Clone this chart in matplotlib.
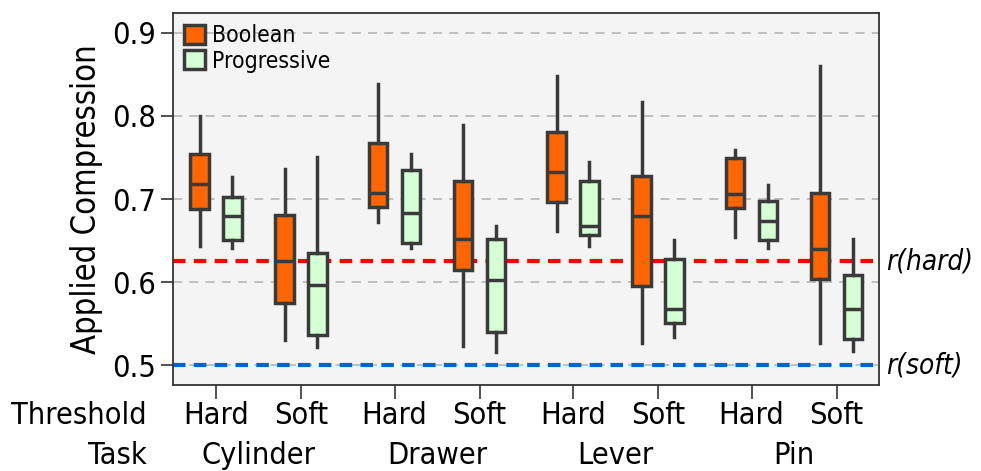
import matplotlib.pyplot as plt
from matplotlib.patches import Patch

plt.rcParams['font.family'] = ['DejaVu Sans']
plt.rcParams['font.stretch'] = 'condensed'

tasks = ['Cylinder', 'Drawer', 'Lever', 'Pin']
thresholds = ['Hard', 'Soft']

# whislo, q1, med, q3, whishi  (order: task x threshold)
boolean = [
    [0.644, 0.688, 0.718, 0.754, 0.800],
    [0.530, 0.575, 0.625, 0.681, 0.736],
    [0.672, 0.690, 0.707, 0.767, 0.839],
    [0.523, 0.615, 0.652, 0.722, 0.789],
    [0.662, 0.696, 0.732, 0.781, 0.848],
    [0.526, 0.595, 0.680, 0.728, 0.817],
    [0.654, 0.689, 0.706, 0.749, 0.759],
    [0.526, 0.604, 0.640, 0.707, 0.860],
]
progressive = [
    [0.641, 0.651, 0.680, 0.702, 0.726],
    [0.522, 0.536, 0.597, 0.635, 0.751],
    [0.641, 0.647, 0.683, 0.735, 0.754],
    [0.516, 0.540, 0.603, 0.652, 0.667],
    [0.643, 0.657, 0.668, 0.722, 0.745],
    [0.534, 0.551, 0.567, 0.628, 0.651],
    [0.641, 0.651, 0.674, 0.697, 0.717],
    [0.517, 0.532, 0.568, 0.609, 0.652],
]
r_hard = 0.625
r_soft = 0.5

bool_color = '#ff6600'
prog_color = '#d5ffd5'
edge = '#3a3a3a'

def stats(rows):
    return [dict(whislo=r[0], q1=r[1], med=r[2], q3=r[3], whishi=r[4], fliers=[]) for r in rows]

centers = []
for g in range(len(tasks)):
    for t in range(len(thresholds)):
        centers.append(g * 2.1 + t)
off = 0.194
w = 0.22

fig = plt.figure(figsize=(9.81, 4.71), dpi=100)
ax = fig.add_axes([173 / 981, 1 - 385 / 471, (879 - 173) / 981, (385 - 13) / 471])
ax.set_facecolor('#f4f4f4')

ax.axhline(r_hard, color='#ff0000', lw=3, ls=(0, (3, 2)), zorder=1)
ax.axhline(r_soft, color='#0066cc', lw=3, ls=(0, (3, 2)), zorder=1)

for data, sign, col in [(boolean, -1, bool_color), (progressive, 1, prog_color)]:
    ax.bxp(stats(data), positions=[c + sign * off for c in centers], widths=w,
           showcaps=False, patch_artist=True, manage_ticks=False,
           boxprops=dict(facecolor=col, edgecolor=edge, linewidth=2.5),
           medianprops=dict(color=edge, linewidth=2.5),
           whiskerprops=dict(color=edge, linewidth=2.5), zorder=3)

ax.set_xlim(-0.506, 7.8)
ax.set_ylim(0.476, 0.924)
ax.set_yticks([0.5, 0.6, 0.7, 0.8, 0.9])
ax.set_yticklabels(['0.5', '0.6', '0.7', '0.8', '0.9'])
ax.yaxis.grid(True, color='#bbbbbb', ls=(0, (5, 4)), lw=1.3, zorder=0)
ax.set_axisbelow(True)
ax.set_xticks(centers)
ax.set_xticklabels([])
ax.tick_params(axis='both', length=9, width=1.2, color='#333333', labelsize=22)
ax.tick_params(axis='x', length=10)
for s in ax.spines.values():
    s.set_color('#333333')
    s.set_linewidth(1.3)

ax.set_ylabel('Applied Compression', fontsize=23.5, labelpad=6)

# category labels below the axis
for i, c in enumerate(centers):
    ax.annotate(thresholds[i % 2], (c, 0), xycoords=('data', 'axes fraction'),
                xytext=(0, -30), textcoords='offset pixels', ha='center', va='center', fontsize=22)
for g, name in enumerate(tasks):
    ax.annotate(name, (g * 2.1 + 0.5, 0), xycoords=('data', 'axes fraction'),
                xytext=(0, -70), textcoords='offset pixels', ha='center', va='center', fontsize=22)
fig.text(147 / 981, 1 - 415 / 471, 'Threshold', ha='right', va='center', fontsize=22)
fig.text(147 / 981, 1 - 455 / 471, 'Task', ha='right', va='center', fontsize=22)

ax.text(1.01, r_hard, 'r(hard)', transform=ax.get_yaxis_transform(), style='italic',
        fontsize=20, va='center', ha='left')
ax.text(1.01, r_soft, 'r(soft)', transform=ax.get_yaxis_transform(), style='italic',
        fontsize=20, va='center', ha='left')

handles = [Patch(facecolor=bool_color, edgecolor=edge, linewidth=2.5, label='Boolean'),
           Patch(facecolor=prog_color, edgecolor=edge, linewidth=2.5, label='Progressive')]
ax.legend(handles=handles, loc='upper left', frameon=False, fontsize=16.5,
          handlelength=0.9, handleheight=0.9, handletextpad=0.3, labelspacing=0.1,
          borderaxespad=0.2, borderpad=0.3)

fig.savefig('out.png', dpi=100)
